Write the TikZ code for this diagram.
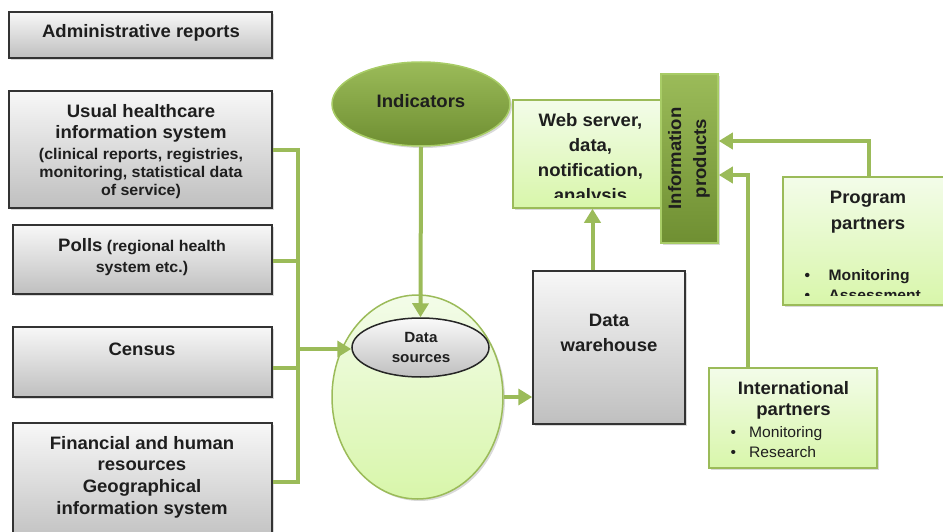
\documentclass[tikz,border=0pt]{standalone}
\usepackage{fontspec}
\setmainfont{Liberation Sans}[FakeStretch=1.03]
\usetikzlibrary{arrows.meta,shadows,shapes.geometric}
\definecolor{olv}{HTML}{9BBB59}
\definecolor{olvdark}{HTML}{6F8F32}
\definecolor{olvline}{HTML}{A8CC66}
\definecolor{lgtop}{HTML}{F3FCE9}
\definecolor{lgbot}{HTML}{D8F6AA}
\definecolor{txt}{HTML}{1E1E1E}
\newcommand{\Tf}{\fontsize{18}{21}\selectfont\bfseries}
\newcommand{\Sf}{\fontsize{15.5}{18}\selectfont\bfseries}
\begin{document}
\begin{tikzpicture}[x=1pt,y=-1pt,
  every node/.style={text=txt, inner sep=0pt},
  shad/.style={drop shadow={shadow xshift=2pt,shadow yshift=-2pt,opacity=0.3}},
  graybox/.style={rectangle, draw=black!80, line width=1.5pt, top color=black!3, bottom color=black!25, shad},
  greenbox/.style={rectangle, draw=olv, line width=1.5pt, top color=lgtop, bottom color=lgbot, shad},
  conn/.style={draw=olv, line width=4pt},
  arr/.style={conn, -{Triangle[length=14pt,width=16pt]}}]
\useasboundingbox (0,0) rectangle (943,532);

% left gray boxes
\node[graybox, minimum width=263pt, minimum height=46pt] (admin) at (140.5,35) {};
\node[graybox, minimum width=263pt, minimum height=117pt] (usual) at (140.5,149.5) {};
\node[graybox, minimum width=259pt, minimum height=69pt] (polls) at (142.5,259.5) {};
\node[graybox, minimum width=259pt, minimum height=70pt] (census) at (142.5,362) {};
\node[graybox, minimum width=259pt, minimum height=122pt] (fin) at (142.5,484) {};

\node[font=\Tf] (adminT) at (141,33) {Administrative reports};
\node[font=\Tf, align=center] (usualT) at (141,123.5) {Usual healthcare\\information system};
\node[font=\Sf, align=center] (usualS) at (141,173) {(clinical reports, registries,\\monitoring, statistical data\\of service)};
\node[font=\fontsize{15.5}{21}\selectfont\bfseries, align=center] (pollsT) at (142,257.5) {{\Tf Polls} (regional health\\system etc.)};
\node[font=\Tf] (censusT) at (142,349) {Census};
\node[font=\fontsize{18}{21.7}\selectfont\bfseries, align=center] (finT) at (142,477) {Financial and human\\resources\\Geographical\\information system};

% central shapes
\node[ellipse, draw=olv, line width=1.5pt, top color=lgtop, bottom color=lgbot, shad, minimum width=171pt, minimum height=204pt] (store) at (417.5,397) {};
\node[ellipse, draw=black!85, line width=1.5pt, top color=black!2, bottom color=black!25, minimum width=137pt, minimum height=59pt] (ds) at (420.5,347.5) {};
\node[font=\fontsize{14.8}{20}\selectfont\bfseries, align=center] (dsT) at (421,347.5) {Data\\sources};

\node[ellipse, draw=olvline, line width=1.5pt, top color=olv, bottom color=olvdark, shad, minimum width=178pt, minimum height=84pt] (ind) at (421,104) {};
\node[font=\Tf] (indT) at (421,101) {Indicators};

\node[graybox, minimum width=152pt, minimum height=153pt] (wh) at (609,347.5) {};
\node[font=\fontsize{18}{25}\selectfont\bfseries, align=center] (whT) at (609,332.5) {Data\\warehouse};

% web server and information products
\node[greenbox, minimum width=159pt, minimum height=108pt] (web) at (592.5,154) {};
\begin{scope}
\clip (514,101) rectangle (662,197.5);
\node[font=\fontsize{18}{25}\selectfont\bfseries, align=center] (webT) at (590.5,159.5) {Web server,\\data,\\notification,\\analysis};
\end{scope}
\node[rectangle, draw=olvline, line width=1.5pt, top color=olv, bottom color=olvdark, shad, minimum width=57pt, minimum height=169pt] (info) at (689.5,158.5) {};
\node[font=\fontsize{18}{25}\selectfont\bfseries, align=center, rotate=90] (infoT) at (689,158.5) {Information\\products};

% partners
\node[greenbox, minimum width=172pt, minimum height=128pt] (prog) at (869,241) {};
\node[font=\fontsize{18}{26}\selectfont\bfseries, align=center] (progT) at (868,212) {Program\\partners};
\begin{scope}
\clip (784,178) rectangle (943,295.5);
\node[font=\fontsize{15.2}{20}\selectfont\bfseries, align=left, anchor=west] (progL) at (804.5,285.5) {\makebox[24pt][l]{•}Monitoring\\\makebox[24pt][l]{•}Assessment};
\end{scope}

\node[greenbox, minimum width=168pt, minimum height=100pt] (intl) at (793,418) {};
\node[font=\Tf, align=center] (intlT) at (793.5,400.5) {International\\partners};
\node[font=\fontsize{15.2}{19.5}\selectfont, align=left, anchor=west] (intlL) at (730.5,442) {\makebox[18.5pt][l]{•}Monitoring\\\makebox[18.5pt][l]{•}Research};

% connectors
\coordinate (b1) at (298,150);
\coordinate (b2) at (298,261);
\coordinate (b3) at (298,368);
\coordinate (b4) at (298,482);
\coordinate (bm) at (298,349);
\draw[conn] (usual.east |- b1) -- (b1) -- (b4) -- (fin.east |- b4);
\draw[conn] (polls.east |- b2) -- (b2);
\draw[conn] (census.east |- b3) -- (b3);
\draw[arr] (bm) -- (ds.west |- bm);
\draw[arr] (ind.south) -- (ds.north);
\draw[arr] (store.east) -- (wh.west |- store.east);
\draw[arr] (web.south |- wh.north) -- (web.south);
\coordinate (pp) at (869,141);
\draw[arr] (prog.north) -- (prog.north |- pp) -- (info.east |- pp);
\coordinate (ip) at (748,175);
\draw[arr] (intl.north -| ip) -- (ip) -- (info.east |- ip);
\end{tikzpicture}
\end{document}
